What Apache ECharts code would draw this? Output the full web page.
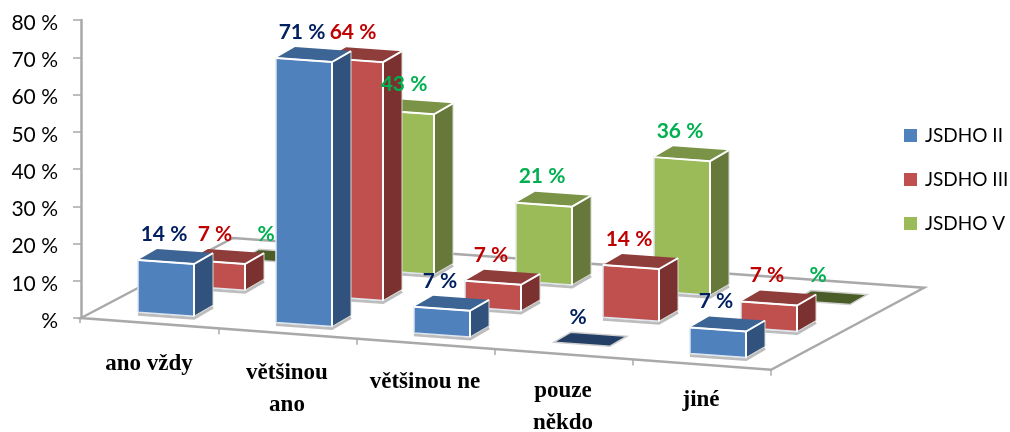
<!DOCTYPE html>
<html>
<head>
<meta charset="utf-8">
<style>html,body{margin:0;padding:0;background:#fff}#main{width:1010px;height:432px}</style>
<script src="https://cdn.jsdelivr.net/npm/echarts@6/dist/echarts.min.js"></script>
</head>
<body>
<div id="main"></div>
<script>
// hodnoty
var categories = ['ano vždy', 'většinou\nano', 'většinou ne', 'pouze\nněkdo', 'jiné'];
var jsdho2 = [14, 71, 7, 0, 7];
var jsdho3 = [7, 64, 7, 14, 7];
var jsdho5 = [0, 43, 21, 36, 0];
var seriesNames = ['JSDHO II', 'JSDHO III', 'JSDHO V'];

// barvy sten sloupcu
var faces = [
  {front: '#4F81BD', top: '#3C6494', side: '#30527C', flat: '#243F66', label: '#002060'},
  {front: '#C0504D', top: '#8F3D3B', side: '#7B3130', flat: '#7B3130', label: '#C00000'},
  {front: '#9BBB59', top: '#7A9346', side: '#66793A', flat: '#4A5C28', label: '#00B050'}
];

// projekce podlahy
var FLOOR_SLOPE = 0.075;
var ROW_DX = 51, ROW_DY = -26;
var BAR_W = 56, BAR_TILT = 4;
var DEPTH_DX = 19, DEPTH_DY = -11;
var GREY = '#A9A9A9';

function floorY(x, y0) {
  return y0 + (x - 81) * FLOOR_SLOPE;
}

function renderBar(row) {
  return function (params, api) {
    var v = api.value(1);
    var p = api.coord([api.value(0), 0]);
    var h = api.size([0, v])[1];
    var x = p[0] - 12 + row * ROW_DX;
    var y = floorY(p[0], p[1]) - 11 + row * ROW_DY;
    var c = faces[row];
    var z = 10 - row;
    var dx = DEPTH_DX, dy = DEPTH_DY;
    var children = [];

    if (v === 0) {
      children.push({
        type: 'polygon', z2: z,
        shape: {points: [[x + 2, y - 1], [x + BAR_W + 2, y + BAR_TILT - 1], [x + BAR_W + dx, y + BAR_TILT + dy], [x + dx, y + dy]]},
        style: {fill: c.flat, stroke: '#cfcfcf', lineWidth: 1.5}
      });
    } else {
      var r = x + BAR_W, t = y - h;
      children.push({
        type: 'polyline', z2: z,
        shape: {points: [[x, y + 2], [r, y + BAR_TILT + 2], [r + dx, y + BAR_TILT + dy + 2]]},
        style: {fill: null, stroke: '#bdbdbd', lineWidth: 3}
      });
      children.push({
        type: 'polygon', z2: z,
        shape: {points: [[r, t + BAR_TILT], [r + dx, t + BAR_TILT + dy], [r + dx, y + BAR_TILT + dy], [r, y + BAR_TILT]]},
        style: {fill: c.side, stroke: '#d5d8d0', lineWidth: 1}
      });
      children.push({
        type: 'polygon', z2: z,
        shape: {points: [[x, t], [r, t + BAR_TILT], [r + dx, t + BAR_TILT + dy], [x + dx, t + dy]]},
        style: {fill: c.top}
      });
      children.push({
        type: 'polygon', z2: z,
        shape: {points: [[x, t], [r, t + BAR_TILT], [r, y + BAR_TILT], [x, y]]},
        style: {fill: c.front, stroke: '#dfe6ee', lineWidth: 1.5}
      });
      children.push({
        type: 'polyline', z2: z,
        shape: {points: [[x, t], [r, t + BAR_TILT], [r + dx, t + BAR_TILT + dy]]},
        style: {fill: null, stroke: '#ffffff', lineWidth: 2}
      });
      children.push({
        type: 'line', z2: z,
        shape: {x1: r, y1: t + BAR_TILT, x2: r, y2: y + BAR_TILT},
        style: {stroke: '#ffffff', lineWidth: 2}
      });
    }
    children.push({
      type: 'text', z2: 100,
      x: x + 26, y: y - h - 26,
      style: {
        text: (v === 0 ? '' : v + ' ') + '%',
        fill: c.label, font: 'bold 21px Lato',
        align: 'center', verticalAlign: 'middle'
      }
    });
    return {type: 'group', children: children};
  };
}

// podlaha, carky na ose a popisky kategorii
function renderFloor(params, api) {
  var i = api.value(0);
  var p = api.coord([i, 0]);
  var half = api.size([1, 0])[0] / 2;
  var xr = p[0] + half;
  var children = [];
  if (i === 0) {
    var x0 = p[0] - half;
    var yl = floorY(x0, p[1]);
    var yr = floorY(x0 + half * 2 * categories.length, p[1]);
    var xe = x0 + half * 2 * categories.length;
    children.push({
      type: 'polygon', z2: 1,
      shape: {points: [[x0, yl], [x0 + 152, yl - 80], [xe + 153, yr - 82], [xe, yr]]},
      style: {fill: '#fff', stroke: GREY, lineWidth: 2.5}
    });
    children.push({
      type: 'line', z2: 1,
      shape: {x1: x0 - 1, y1: yl, x2: x0 - 1, y2: yl + 5},
      style: {stroke: GREY, lineWidth: 1.5}
    });
  }
  children.push({
    type: 'line', z2: 1,
    shape: {x1: xr, y1: floorY(xr, p[1]), x2: xr, y2: floorY(xr, p[1]) + 6},
    style: {stroke: GREY, lineWidth: 1.5}
  });
  children.push({
    type: 'text', z2: 100,
    x: p[0] - 1, y: 348 + i * 9,
    style: {
      text: categories[i],
      fill: '#000', font: 'bold 23px "Liberation Serif"',
      align: 'center', verticalAlign: 'top', lineHeight: 32
    }
  });
  return {type: 'group', children: children};
}

function toPairs(values) {
  return values.map(function (v, i) { return [i, v]; });
}

var myChart = echarts.init(document.getElementById('main'), null, {renderer: 'canvas'});

var option = {
  animation: false,
  backgroundColor: '#fff',
  grid: {left: 81, top: 20, width: 690, height: 298},
  legend: {
    data: seriesNames,
    orient: 'vertical',
    left: 899, top: 121,
    itemWidth: 13, itemHeight: 13, itemGap: 25,
    icon: 'rect',
    textStyle: {fontFamily: 'Lato', fontSize: 19, color: '#000', padding: [0, 0, 0, 3]}
  },
  xAxis: {type: 'category', data: categories, show: false},
  yAxis: {
    type: 'value', min: 0, max: 80, interval: 10,
    splitLine: {show: false},
    axisLine: {show: true, lineStyle: {color: GREY, width: 2.5}},
    axisTick: {show: true, length: 8, lineStyle: {color: GREY, width: 1.5}},
    axisLabel: {
      margin: 23, fontFamily: 'Lato', fontSize: 21, color: '#000',
      verticalAlign: 'top', lineHeight: 6,
      formatter: function (v) { return v === 0 ? '%' : v + ' %'; }
    }
  },
  series: [
    {
      name: 'floor', type: 'custom', silent: true,
      renderItem: renderFloor,
      encode: {x: 0, y: 1},
      data: toPairs(categories.map(function () { return 0; }))
    },
    {name: seriesNames[0], type: 'custom', renderItem: renderBar(0), encode: {x: 0, y: 1}, itemStyle: {color: faces[0].front}, data: toPairs(jsdho2)},
    {name: seriesNames[1], type: 'custom', renderItem: renderBar(1), encode: {x: 0, y: 1}, itemStyle: {color: faces[1].front}, data: toPairs(jsdho3)},
    {name: seriesNames[2], type: 'custom', renderItem: renderBar(2), encode: {x: 0, y: 1}, itemStyle: {color: faces[2].front}, data: toPairs(jsdho5)}
  ]
};
myChart.setOption(option);
</script>
</body>
</html>
